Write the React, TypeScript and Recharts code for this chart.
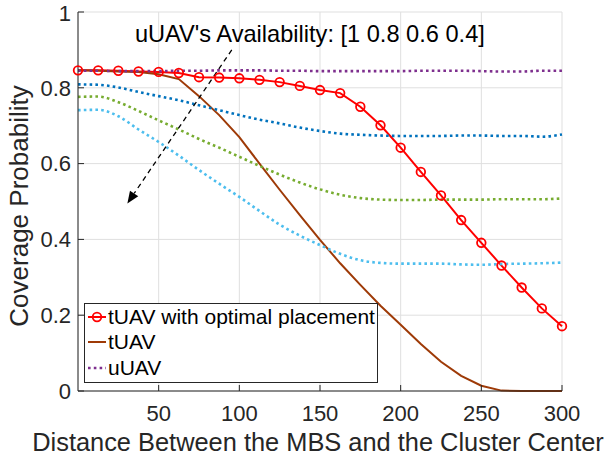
import { CartesianGrid, Legend, Line, LineChart, ReferenceDot, ReferenceLine, XAxis, YAxis } from 'recharts';

// distance between MBS and cluster center, sampled every 12.5
const distances = [0, 12.5, 25, 37.5, 50, 62.5, 75, 87.5, 100, 112.5, 125, 137.5, 150, 162.5, 175, 187.5, 200, 212.5, 225, 237.5, 250, 262.5, 275, 287.5, 300];

const tuavOptimal = [0.846, 0.846, 0.845, 0.843, 0.842, 0.839, 0.828, 0.827, 0.825, 0.821, 0.815, 0.805, 0.794, 0.786, 0.75, 0.701, 0.642, 0.578, 0.516, 0.451, 0.391, 0.331, 0.273, 0.218, 0.171];
const tuav = [0.846, 0.845, 0.843, 0.842, 0.836, 0.823, 0.778, 0.728, 0.67, 0.6, 0.531, 0.464, 0.399, 0.337, 0.28, 0.225, 0.175, 0.124, 0.077, 0.04, 0.014, 0.001, 0, 0, 0];
// uUAV curves for availability 1, 0.8, 0.6, 0.4
const uuav10 = [0.845, 0.845, 0.844, 0.844, 0.844, 0.845, 0.845, 0.846, 0.846, 0.846, 0.845, 0.845, 0.844, 0.844, 0.844, 0.844, 0.844, 0.845, 0.845, 0.845, 0.844, 0.843, 0.843, 0.845, 0.845];
const uuav08 = [0.809, 0.808, 0.801, 0.789, 0.778, 0.767, 0.754, 0.741, 0.728, 0.716, 0.706, 0.695, 0.686, 0.679, 0.676, 0.674, 0.673, 0.673, 0.673, 0.674, 0.674, 0.673, 0.673, 0.671, 0.677];
const uuav06 = [0.776, 0.777, 0.762, 0.739, 0.714, 0.69, 0.665, 0.642, 0.618, 0.594, 0.571, 0.55, 0.532, 0.518, 0.509, 0.505, 0.504, 0.504, 0.505, 0.505, 0.505, 0.506, 0.506, 0.506, 0.508];
const uuav04 = [0.741, 0.742, 0.725, 0.69, 0.657, 0.621, 0.583, 0.547, 0.512, 0.475, 0.439, 0.41, 0.385, 0.362, 0.345, 0.338, 0.336, 0.336, 0.336, 0.334, 0.333, 0.335, 0.336, 0.337, 0.339];

const xTicks = [50, 100, 150, 200, 250, 300];
const yTicks = [0, 0.2, 0.4, 0.6, 0.8, 1];

const legendItems = [
  { name: 'tUAV with optimal placement', color: '#ff0000', kind: 'marker' },
  { name: 'tUAV', color: '#9e3a07', kind: 'solid' },
  { name: 'uUAV', color: '#7e2f8e', kind: 'dotted' },
];

const data = distances.map((x, i) => ({
  x,
  opt: tuavOptimal[i],
  tuav: tuav[i],
  u10: uuav10[i],
  u08: uuav08[i],
  u06: uuav06[i],
  u04: uuav04[i],
}));

const FONT = '"Liberation Sans", Arial, Helvetica, sans-serif';
const AXIS = '#262626';
const dotted = { strokeWidth: 2.6, strokeDasharray: '2.6 3.2', dot: false, isAnimationActive: false, type: 'monotone' as const };

function Arrow(props: any) {
  const { x1, y1, x2, y2 } = props;
  const dx = x2 - x1;
  const dy = y2 - y1;
  const len = Math.sqrt(dx * dx + dy * dy);
  const ux = dx / len;
  const uy = dy / len;
  const head = 12;
  const half = 5;
  const bx = x2 - ux * head;
  const by = y2 - uy * head;
  return (
    <g>
      <line x1={x1} y1={y1} x2={bx} y2={by} stroke="#000" strokeWidth={1.3} strokeDasharray="5 4" />
      <polygon
        points={`${x2},${y2} ${bx - uy * half},${by + ux * half} ${bx + uy * half},${by - ux * half}`}
        fill="#000"
      />
    </g>
  );
}

function LegendBox() {
  return (
    <div
      style={{
        width: 294,
        height: 80,
        boxSizing: 'border-box',
        border: `1.3px solid ${AXIS}`,
        background: '#fff',
        fontFamily: FONT,
        fontSize: 21,
        color: '#000',
      }}
    >
      {legendItems.map((it) => (
        <div key={it.name} style={{ display: 'flex', alignItems: 'center', height: 25.6, paddingLeft: 2 }}>
          <svg width={20} height={14} style={{ marginRight: 1 }}>
            <line
              x1={1}
              y1={7}
              x2={19}
              y2={7}
              stroke={it.color}
              strokeWidth={it.kind === 'dotted' ? 2.6 : 2}
              strokeDasharray={it.kind === 'dotted' ? '2.6 3.2' : undefined}
            />
            {it.kind === 'marker' && <circle cx={10} cy={7} r={4.3} fill="none" stroke={it.color} strokeWidth={1.8} />}
          </svg>
          <span style={{ whiteSpace: 'nowrap' }}>{it.name}</span>
        </div>
      ))}
    </div>
  );
}

export default function App() {
  return (
    <div style={{ position: 'absolute', left: 0, top: 0, background: '#fff' }}>
      <LineChart width={609} height={459} data={data} margin={{ top: 12, right: 47, bottom: 0, left: 0 }}>
        <CartesianGrid stroke="#dfdfdf" strokeWidth={1} />
        <XAxis
          dataKey="x"
          type="number"
          domain={[0, 300]}
          ticks={xTicks}
          height={68}
          tickSize={-6}
          tickMargin={20}
          stroke={AXIS}
          tick={{ fill: AXIS, fontSize: 22, fontFamily: FONT }}
          label={{
            content: () => (
              <text x={318} y={451} textAnchor="middle" fill={AXIS} fontSize={25.4} fontFamily={FONT}>
                Distance Between the MBS and the Cluster Center
              </text>
            ),
          }}
        />
        <XAxis xAxisId="top" orientation="top" type="number" domain={[0, 300]} ticks={xTicks} height={0} tickSize={-6} tick={false} stroke={AXIS} />
        <YAxis
          type="number"
          domain={[0, 1]}
          ticks={yTicks}
          width={78}
          tickSize={-6}
          tickMargin={13}
          stroke={AXIS}
          tick={{ fill: AXIS, fontSize: 22, fontFamily: FONT }}
          label={{
            content: () => (
              <text x={28} y={206} transform="rotate(-90, 28, 206)" textAnchor="middle" fill={AXIS} fontSize={26} fontFamily={FONT}>
                Coverage Probability
              </text>
            ),
          }}
        />
        <YAxis yAxisId="right" orientation="right" type="number" domain={[0, 1]} ticks={yTicks} width={0} tickSize={-6} tick={false} stroke={AXIS} />

        <Line dataKey="opt" type="linear" stroke="#ff0000" strokeWidth={2} isAnimationActive={false}
          dot={{ r: 4.3, stroke: '#ff0000', strokeWidth: 1.8, fill: 'none' }} />
        <Line dataKey="tuav" type="linear" stroke="#9e3a07" strokeWidth={2} dot={false} isAnimationActive={false} />
        <Line dataKey="u10" stroke="#7e2f8e" {...dotted} />
        <Line dataKey="u08" stroke="#0072bd" {...dotted} />
        <Line dataKey="u06" stroke="#77ac30" {...dotted} />
        <Line dataKey="u04" stroke="#4dbeee" {...dotted} />

        <ReferenceLine segment={[{ x: 95.3, y: 0.9 }, { x: 30.6, y: 0.495 }]} shape={Arrow} />
        <ReferenceDot
          x={35.3}
          y={0.943}
          r={0}
          fill="none"
          stroke="none"
          label={{ value: "uUAV's Availability: [1 0.8 0.6 0.4]", position: 'right', offset: 0, fontSize: 23.6, fill: '#000', fontFamily: FONT }}
        />
        <Legend
          layout="vertical"
          align="center"
          verticalAlign="middle"
          content={() => <LegendBox />}
          wrapperStyle={{ left: 84, top: 303, width: 294, height: 80 }}
        />
      </LineChart>
    </div>
  );
}
